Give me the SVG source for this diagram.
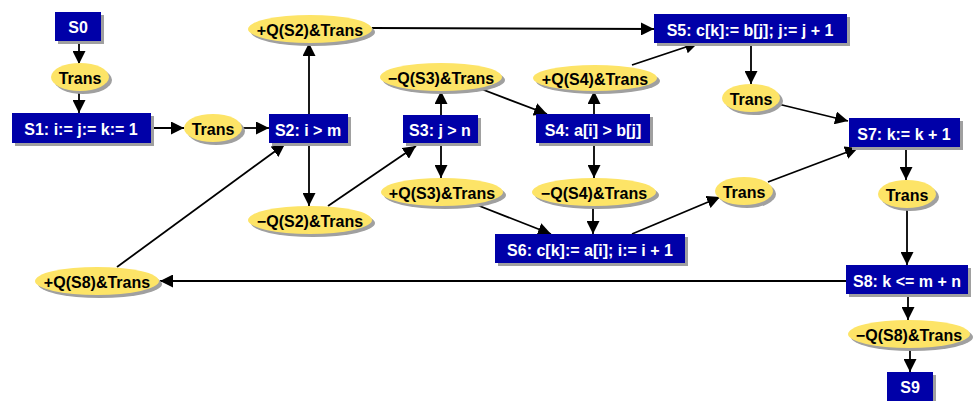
<svg xmlns="http://www.w3.org/2000/svg" width="973" height="401" viewBox="0 0 973 401">
<defs>
<marker id="ah" viewBox="0 0 12 12" refX="12" refY="6" markerWidth="13" markerHeight="13" markerUnits="userSpaceOnUse" orient="auto">
<path d="M0,0 L12,6 L0,12 Z" fill="#000"/>
</marker>
</defs>
<style>
.box{fill:#0000a8}
.sh{fill:#a0a0a0}
.ell{fill:#fde467}
.bt{fill:#fff;font-family:"Liberation Sans",Arial,sans-serif;font-weight:bold;font-size:16px;text-anchor:middle;dominant-baseline:central}
.et{fill:#000;font-family:"Liberation Sans",Arial,sans-serif;font-weight:bold;font-size:16px;text-anchor:middle;dominant-baseline:central}
.c line{stroke:#000;stroke-width:1.8;marker-end:url(#ah)}
</style>
<rect width="973" height="401" fill="#fff"/>
<g class="c" id="connectors">
<line x1="79" y1="41" x2="79" y2="64"/>
<line x1="79" y1="92" x2="79" y2="113"/>
<line x1="151" y1="128" x2="184" y2="128"/>
<line x1="242" y1="128" x2="269" y2="128"/>
<line x1="309" y1="114" x2="309" y2="43"/>
<line x1="309" y1="143" x2="309" y2="206"/>
<line x1="372" y1="28" x2="654" y2="29"/>
<line x1="328" y1="206" x2="416" y2="146"/>
<line x1="441" y1="115" x2="441" y2="91"/>
<line x1="441" y1="143" x2="441" y2="178"/>
<line x1="476" y1="87" x2="547" y2="114"/>
<line x1="477" y1="205" x2="551" y2="234"/>
<line x1="594" y1="114" x2="594" y2="91"/>
<line x1="594" y1="143" x2="594" y2="178"/>
<line x1="632" y1="65" x2="698" y2="43"/>
<line x1="593" y1="206" x2="593" y2="234"/>
<line x1="751" y1="43" x2="751" y2="84"/>
<line x1="778" y1="104" x2="848" y2="121"/>
<line x1="632" y1="234" x2="720" y2="197"/>
<line x1="768" y1="182" x2="858" y2="148"/>
<line x1="906" y1="147" x2="906" y2="180"/>
<line x1="907" y1="208" x2="907" y2="265"/>
<line x1="846" y1="281" x2="160" y2="281"/>
<line x1="117" y1="267" x2="285" y2="144"/>
<line x1="908" y1="294" x2="908" y2="320"/>
<line x1="910" y1="348" x2="910" y2="372"/>
</g>
<g id="S0"><rect class="sh" x="58" y="15" width="46" height="29"/><rect class="box" x="55" y="12" width="46" height="29"/><text class="bt" x="78" y="27">S0</text></g>
<g id="T1"><ellipse class="sh" cx="83" cy="80" rx="29" ry="14"/><ellipse class="ell" cx="80" cy="77" rx="29" ry="14"/><text class="et" x="80" y="78">Trans</text></g>
<g id="S1"><rect class="sh" x="15" y="116" width="139" height="30"/><rect class="box" x="12" y="113" width="139" height="30"/><text class="bt" x="81" y="129">S1: i:= j:= k:= 1</text></g>
<g id="T2"><ellipse class="sh" cx="216" cy="131" rx="29" ry="14"/><ellipse class="ell" cx="213" cy="128" rx="29" ry="14"/><text class="et" x="213" y="129">Trans</text></g>
<g id="S2"><rect class="sh" x="272" y="117" width="79" height="29"/><rect class="box" x="269" y="114" width="79" height="29"/><text class="bt" x="308" y="130">S2: i &gt; m</text></g>
<g id="QS2p"><ellipse class="sh" cx="313" cy="32" rx="62" ry="14"/><ellipse class="ell" cx="310" cy="29" rx="62" ry="14"/><text class="et" x="310" y="30">+Q(S2)&amp;Trans</text></g>
<g id="QS2m"><ellipse class="sh" cx="313" cy="223" rx="62" ry="14"/><ellipse class="ell" cx="310" cy="220" rx="62" ry="14"/><text class="et" x="310" y="221">−Q(S2)&amp;Trans</text></g>
<g id="S3"><rect class="sh" x="406" y="118" width="75" height="28"/><rect class="box" x="403" y="115" width="75" height="28"/><text class="bt" x="440" y="130">S3: j &gt; n</text></g>
<g id="QS3m"><ellipse class="sh" cx="444" cy="80" rx="61" ry="14"/><ellipse class="ell" cx="441" cy="77" rx="61" ry="14"/><text class="et" x="441" y="78">−Q(S3)&amp;Trans</text></g>
<g id="QS3p"><ellipse class="sh" cx="445" cy="195" rx="61" ry="14"/><ellipse class="ell" cx="442" cy="192" rx="61" ry="14"/><text class="et" x="442" y="193">+Q(S3)&amp;Trans</text></g>
<g id="S4"><rect class="sh" x="539" y="117" width="114" height="29"/><rect class="box" x="536" y="114" width="114" height="29"/><text class="bt" x="593" y="130">S4: a[i] &gt; b[j]</text></g>
<g id="QS4p"><ellipse class="sh" cx="598" cy="81" rx="62" ry="13"/><ellipse class="ell" cx="595" cy="78" rx="62" ry="13"/><text class="et" x="595" y="79">+Q(S4)&amp;Trans</text></g>
<g id="QS4m"><ellipse class="sh" cx="597" cy="195" rx="62" ry="14"/><ellipse class="ell" cx="594" cy="192" rx="62" ry="14"/><text class="et" x="594" y="193">−Q(S4)&amp;Trans</text></g>
<g id="S5"><rect class="sh" x="657" y="17" width="193" height="29"/><rect class="box" x="654" y="14" width="193" height="29"/><text class="bt" x="750" y="30">S5: c[k]:= b[j]; j:= j + 1</text></g>
<g id="T3"><ellipse class="sh" cx="754" cy="101" rx="29" ry="14"/><ellipse class="ell" cx="751" cy="98" rx="29" ry="14"/><text class="et" x="751" y="99">Trans</text></g>
<g id="S6"><rect class="sh" x="498" y="237" width="190" height="29"/><rect class="box" x="495" y="234" width="190" height="29"/><text class="bt" x="590" y="250">S6: c[k]:= a[i]; i:= i + 1</text></g>
<g id="T4"><ellipse class="sh" cx="747" cy="194" rx="29" ry="14"/><ellipse class="ell" cx="744" cy="191" rx="29" ry="14"/><text class="et" x="744" y="192">Trans</text></g>
<g id="S7"><rect class="sh" x="852" y="121" width="111" height="29"/><rect class="box" x="849" y="118" width="111" height="29"/><text class="bt" x="904" y="134">S7: k:= k + 1</text></g>
<g id="T5"><ellipse class="sh" cx="910" cy="197" rx="29" ry="14"/><ellipse class="ell" cx="907" cy="194" rx="29" ry="14"/><text class="et" x="907" y="195">Trans</text></g>
<g id="S8"><rect class="sh" x="849" y="268" width="122" height="29"/><rect class="box" x="846" y="265" width="122" height="29"/><text class="bt" x="907" y="281">S8: k &lt;= m + n</text></g>
<g id="QS8p"><ellipse class="sh" cx="100" cy="284" rx="62" ry="14"/><ellipse class="ell" cx="97" cy="281" rx="62" ry="14"/><text class="et" x="97" y="282">+Q(S8)&amp;Trans</text></g>
<g id="QS8m"><ellipse class="sh" cx="912" cy="337" rx="61" ry="14"/><ellipse class="ell" cx="909" cy="334" rx="61" ry="14"/><text class="et" x="909" y="335">−Q(S8)&amp;Trans</text></g>
<g id="S9"><rect class="sh" x="890" y="375" width="46" height="29"/><rect class="box" x="887" y="372" width="46" height="29"/><text class="bt" x="910" y="387">S9</text></g>
</svg>
